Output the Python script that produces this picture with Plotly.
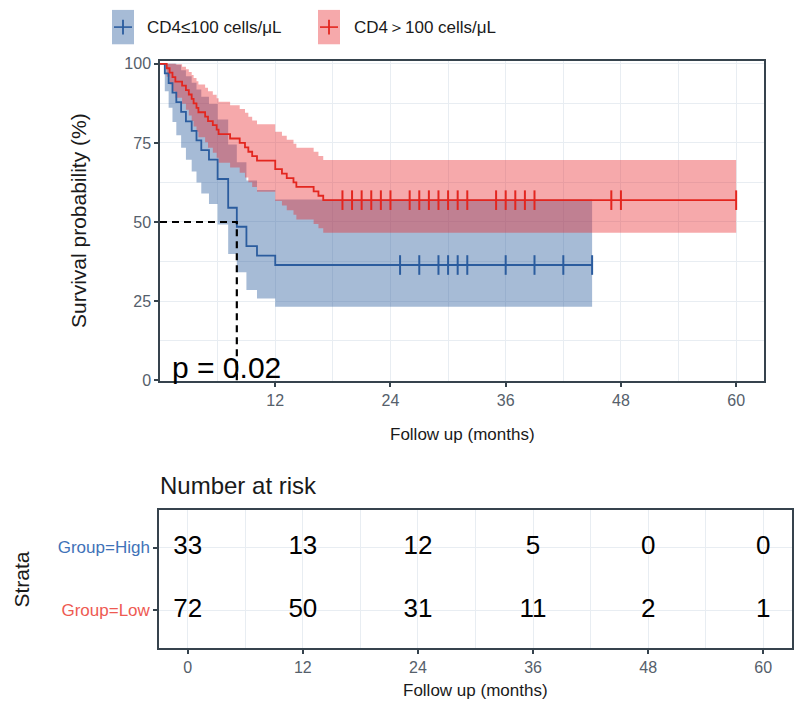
import plotly.graph_objects as go

# Kaplan-Meier steps (months, %)
blue_time = [0, 0.5, 0.9, 1.3, 1.7, 2.2, 2.7, 3.3, 3.8, 4.3, 5.1, 6.0, 7.1, 8.0, 9.0, 10.1, 12.0, 45]
blue_surv = [100, 97.0, 93.9, 90.9, 87.9, 84.8, 81.8, 78.8, 75.8, 72.7, 69.7, 63.6, 54.5, 48.5, 42.4, 39.4, 36.4, 36.4]
blue_lower = [100, 91.3, 86.1, 81.6, 77.4, 73.5, 69.7, 66.0, 62.5, 59.0, 55.7, 49.2, 39.9, 34.1, 28.5, 25.8, 23.2, 23.2]
blue_upper = [100, 100, 100, 100, 99.7, 98.0, 96.1, 94.0, 91.9, 89.6, 87.3, 82.4, 74.5, 68.9, 63.1, 60.1, 57.1, 57.1]
blue_censor = [25, 27, 29, 30, 31, 32, 36, 39, 42, 45]

red_time = [0, 0.7, 1.0, 1.3, 1.6, 2.3, 2.7, 3.0, 3.3, 3.5, 3.8, 4.0, 4.7, 5.0, 5.5, 5.9, 6.1, 7.3, 8.3, 8.85,
            9.2, 9.6, 10.1, 12.0, 12.7, 13.2, 13.9, 14.2, 16.0, 16.5, 17.0, 60]
red_surv = [100, 98.6, 97.2, 95.8, 94.4, 93.1, 91.7, 90.3, 88.9, 87.5, 86.1, 84.7, 83.3, 81.9, 80.6, 79.2, 77.8,
            76.4, 75.0, 73.6, 72.2, 70.8, 69.4, 66.7, 65.3, 63.9, 62.5, 61.1, 59.7, 58.3, 56.9, 56.9]
red_lower = [100, 95.9, 93.5, 91.3, 89.3, 87.4, 85.5, 83.7, 81.9, 80.2, 78.5, 76.8, 75.2, 73.5, 71.9, 70.3, 68.7,
             67.2, 65.6, 64.1, 62.6, 61.1, 59.6, 56.6, 55.2, 53.7, 52.3, 50.8, 49.4, 48.0, 46.6, 46.6]
red_upper = [100, 100, 100, 100, 99.9, 99.1, 98.3, 97.4, 96.5, 95.5, 94.5, 93.5, 92.4, 91.3, 90.2, 89.1, 88.0,
             86.9, 85.7, 84.5, 83.3, 82.1, 80.9, 78.5, 77.3, 76.0, 74.7, 73.5, 72.2, 70.9, 69.6, 69.6]
red_censor = [19, 20, 21, 22, 23, 24, 26, 27, 28, 29, 30, 31, 32, 35, 36, 37, 38, 39, 47, 48, 60]

median_blue = 8.0
p_text = "p = 0.02"
legend_labels = ["CD4≤100 cells/μL", "CD4＞100 cells/μL"]

# number at risk table
risk_times = [0, 12, 24, 36, 48, 60]
risk_high = [33, 13, 12, 5, 0, 0]
risk_low = [72, 50, 31, 11, 2, 1]
strata_labels = ["Group=High", "Group=Low"]

BLUE = "#2b5c9e"
RED = "#e3261f"
BLUE_BAND = "rgba(43,92,158,0.42)"
RED_BAND = "rgba(232,40,45,0.40)"
GRID = "#e8edf2"
FRAME = "#36434d"
TICKC = "#55606b"
FONT = "Liberation Sans, Arial, sans-serif"
W, H = 800, 723


def px(x, y):
    return x / W, 1 - y / H


fig = go.Figure()

# confidence bands (blue first, red on top)
for t, lo, hi, band in [(blue_time, blue_lower, blue_upper, BLUE_BAND),
                        (red_time, red_lower, red_upper, RED_BAND)]:
    fig.add_trace(go.Scatter(x=t, y=hi, mode="lines", line=dict(width=0, shape="hv"),
                             showlegend=False, hoverinfo="skip"))
    fig.add_trace(go.Scatter(x=t, y=lo, mode="lines", line=dict(width=0, shape="hv"),
                             fill="tonexty", fillcolor=band, showlegend=False, hoverinfo="skip"))

# survival curves
for t, s, c in [(blue_time, blue_surv, BLUE), (red_time, red_surv, RED)]:
    fig.add_trace(go.Scatter(x=t, y=s, mode="lines", line=dict(color=c, width=1.8, shape="hv"),
                             showlegend=False))

# censor marks
for cens, s, c in [(blue_censor, blue_surv, BLUE), (red_censor, red_surv, RED)]:
    fig.add_trace(go.Scatter(x=cens, y=[s[-1]] * len(cens), mode="markers",
                             marker=dict(symbol="line-ns", size=14, line=dict(color=c, width=2)),
                             showlegend=False))

# median line
fig.add_trace(go.Scatter(x=[0, median_blue, median_blue], y=[50, 50, 0], mode="lines",
                         line=dict(color="black", width=2.2, dash="7px,5px"), showlegend=False))

# risk table numbers
fig.add_trace(go.Scatter(x=risk_times, y=[2] * len(risk_times), mode="text",
                         text=[str(v) for v in risk_high], textfont=dict(size=26, color="black", family=FONT),
                         xaxis="x2", yaxis="y2", showlegend=False))
fig.add_trace(go.Scatter(x=risk_times, y=[1] * len(risk_times), mode="text",
                         text=[str(v) for v in risk_low], textfont=dict(size=26, color="black", family=FONT),
                         xaxis="x2", yaxis="y2", showlegend=False))

axis_common = dict(showline=True, mirror=True, linecolor=FRAME, linewidth=1.5,
                   ticks="outside", ticklen=4, tickwidth=1.5, tickcolor=FRAME,
                   gridcolor=GRID, gridwidth=1.2, zeroline=False,
                   tickfont=dict(size=16, color=TICKC, family=FONT))

fig.update_layout(
    width=W, height=H,
    margin=dict(l=0, r=0, t=0, b=0),
    paper_bgcolor="white", plot_bgcolor="white",
    font=dict(family=FONT),
    xaxis=dict(domain=[160 / W, 764 / W], range=[0, 62.9], anchor="y",
               tickvals=[12, 24, 36, 48, 60],
               minor=dict(tickvals=[6, 18, 30, 42, 54], showgrid=True, gridcolor=GRID, gridwidth=0.8),
               **axis_common),
    yaxis=dict(domain=[1 - 383 / H, 1 - 57 / H], range=[-0.3, 100.9], anchor="x",
               tickvals=[0, 25, 50, 75, 100],
               minor=dict(tickvals=[12.5, 37.5, 62.5, 87.5], showgrid=True, gridcolor=GRID, gridwidth=0.8),
               **axis_common),
    xaxis2=dict(domain=[159 / W, 792 / W], range=[-3, 63], anchor="y2",
                tickvals=risk_times,
                minor=dict(tickvals=[6, 18, 30, 42, 54], showgrid=True, gridcolor=GRID, gridwidth=0.8),
                **axis_common),
    yaxis2=dict(domain=[1 - 655 / H, 1 - 514 / H], range=[0.4, 2.6], anchor="x2",
                tickvals=[2, 1],
                ticktext=["<span style='color:#3f72b8'>%s</span>" % strata_labels[0],
                          "<span style='color:#ee5a52'>%s</span>" % strata_labels[1]],
                **{k: v for k, v in axis_common.items() if k != "tickfont"},
                tickfont=dict(size=17, family=FONT)),
)

annotations = []
# p value
annotations.append(dict(x=1.0, y=4.0, xref="x", yref="y", text=p_text, showarrow=False,
                        xanchor="left", yanchor="middle", font=dict(size=30, color="black", family=FONT)))

# legend drawn by hand to get tall key boxes
shapes = []
for (x0, tx), label, c, band in zip([(112, 145), (318, 352)], legend_labels, [BLUE, RED], [BLUE_BAND, RED_BAND]):
    a0, b0 = px(x0, 5)
    a1, b1 = px(x0 + 22, 40)
    shapes.append(dict(type="rect", xref="paper", yref="paper", x0=a0, x1=a1, y0=b1, y1=b0,
                       fillcolor=band, line=dict(width=0)))
    la, lb = px(x0 + 2, 22.5)
    lc, _ = px(x0 + 20, 22.5)
    shapes.append(dict(type="line", xref="paper", yref="paper", x0=la, x1=lc, y0=lb, y1=lb,
                       line=dict(color=c, width=1.6)))
    va, vb = px(x0 + 11, 15)
    _, vd = px(x0 + 11, 30)
    shapes.append(dict(type="line", xref="paper", yref="paper", x0=va, x1=va, y0=vb, y1=vd,
                       line=dict(color=c, width=1.8)))
    ta, tb = px(tx, 22.5)
    annotations.append(dict(x=ta, y=tb, xref="paper", yref="paper", text=label, showarrow=False,
                            xanchor="left", yanchor="middle", font=dict(size=17, color="#1a1a1a", family=FONT)))

# axis titles
for (x, y), text, size, angle, anchor in [
    ((78, 220), "Survival probability (%)", 21, -90, "center"),
    ((462, 437), "Follow up (months)", 17, 0, "center"),
    ((158, 489), "Number at risk", 24, 0, "left"),
    ((21, 585), "Strata", 21, -90, "center"),
    ((475, 698), "Follow up (months)", 17, 0, "center"),
]:
    a, b = px(x, y)
    annotations.append(dict(x=a, y=b, xref="paper", yref="paper", text=text, showarrow=False,
                            textangle=angle, xanchor=anchor, yanchor="middle",
                            font=dict(size=size, color="#1a1a1a", family=FONT)))

fig.update_layout(annotations=annotations, shapes=shapes)

# drop the default page margin so the figure sits at the window's corner
fig.write_html("out.html", config={"displayModeBar": False},
               post_script="document.body.style.margin='0';")
